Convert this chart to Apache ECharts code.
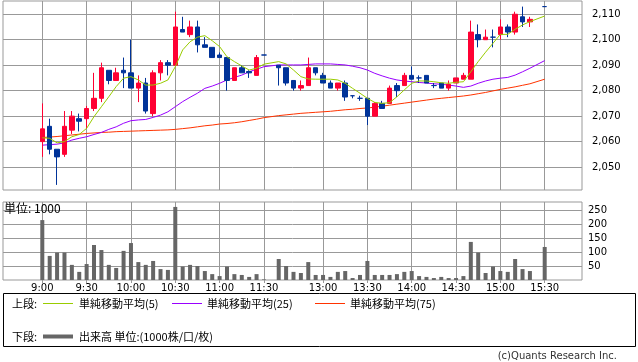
<!DOCTYPE html>
<html><head><meta charset="utf-8">
<script src="https://cdn.jsdelivr.net/npm/echarts@6/dist/echarts.min.js"></script>
<style>html,body{margin:0;padding:0;background:#fff}#c{width:638px;height:362px}</style>
</head><body><div id="c"></div>
<script>
// slot index 0 = 9:00, each slot = 5 minutes; 31 = lunch gap, 67 = 15:25 (no trade)
const tickIdx = [0, 6, 12, 18, 24, 30, 38, 44, 50, 56, 62, 68];
const tickLabels = ['9:00', '9:30', '10:00', '10:30', '11:00', '11:30', '13:00', '13:30', '14:00', '14:30', '15:00', '15:30'];
const priceTicks = [2050, 2060, 2070, 2080, 2090, 2100, 2110];
const volTicks = [50, 100, 150, 200, 250];

const opens = [2060,2066,2057,2055,2064.5,2069,2069,2073,2077,2088,
  2084,2088,2087,2081,2083,2071,2087,2091,2090,2104,
  2102,2105,2098,2097,2094,2093,2084,2089,2087.5,2086,
  2094,null,2090,2089,2084,2081,2082,2089,2086,2083,
  2081,2083,2078,2077,2077,2070,2075,2075,2082,2082,
  2086,2085,2086,2082,2083,2081,2083,2084.5,2084.5,2102,
  2100,2101,2102,2105,2103,2109,2107,null,2113];
const closes = [2065,2057,2054,2066,2070,2068,2073,2077,2089,2084,
  2087,2087,2081,2083,2072,2087,2091,2090,2105,2103,
  2105,2098,2097,2093,2093,2084,2089,2087,2087,2093,
  2094,null,2089,2083,2081,2082,2089,2087,2083,2081,
  2083,2077.5,2078,2077,2070,2075,2073,2081,2080,2086,
  2084.5,2085,2083,2082,2081,2082.5,2085,2086,2103,2100,
  2101,2101,2105,2103,2110,2107,2108,null,2113];
const lows = [2054,2055,2043,2054,2063,2064,2065,2072,2075.5,2082.5,
  2084,2081,2081,2075.5,2071,2070,2084,2086,2090,2103,
  2101,2095,2097,2093,2093,2080,2084,2087,2085,2086,
  2094,null,2082,2082,2080,2080,2082,2086,2083,2081,
  2080,2076,2077,2076,2066.5,2070,2073,2075,2077.5,2082,
  2084.5,2083,2083,2081,2081,2080,2083,2084.5,2084.5,2097,
  2100,2097,2100,2101,2102,2105,2105,null,2113];
const highs = [2075,2069,2057,2072,2072,2071,2074,2087,2091,2088,
  2089,2093,2100,2086,2085,2088,2092,2092,2111,2109,
  2107.5,2107.5,2101,2097,2095,2093,2089,2090,2088,2094,
  2094,null,2090,2089,2084,2084,2093,2089,2087,2084,
  2083,2084,2078,2078,2077,2075.5,2076,2082,2083,2087,
  2089.5,2086,2086,2083,2083,2084,2085,2087,2107.5,2106,
  2104,2104,2108,2106,2111,2113,2109,null,2113];
const volumes = [214,86,98,98,54,29,57,125,107,54,
  43,104,132,64,54,68,39,36,261,48,
  54,50,32,21,14,48,21,18,11,21,
  2,null,75,50,29,25,64,18,18,11,
  29,32,7,18,68,18,18,18,21,29,
  32,14,11,7,11,7,7,14,136,98,
  25,48,32,29,75,39,32,null,118];
const ma5 = [2061.5,2061.3,2059.5,2060.0,2061.9,2062.8,2065.2,2069.8,2073.7,2077.6,
  2081.6,2084.9,2085.5,2084.2,2082.2,2082.2,2082.9,2084.2,2089.4,2096.0,
  2099.2,2101.0,2101.6,2099.6,2097.3,2093.3,2091.4,2089.7,2088.1,2088.8,
  2090.4,null,2091.4,2090.5,2088.1,2085.5,2084.6,2084.5,2084.5,2084.5,
  2084.2,2082.9,2080.9,2079.0,2077.0,2075.4,2075.0,2075.3,2077.6,2080.3,
  2082.9,2083.8,2083.8,2083.5,2083.1,2082.9,2083.3,2083.5,2087.4,2091.4,
  2095.1,2098.6,2102.1,2102.1,2104.1,2105.8,2107.1,null,2109.3];
const ma25 = [2058.6,2058.8,2059.0,2059.5,2060.6,2061.3,2061.9,2062.8,2063.6,2064.8,
  2065.8,2067.2,2068.2,2068.5,2068.7,2069.5,2070.4,2071.7,2073.7,2075.7,
  2077.4,2079.0,2080.9,2081.8,2082.9,2084.2,2085.2,2086.1,2087.4,2088.4,
  2089.4,null,2090.1,2090.1,2090.1,2090.1,2090.3,2090.5,2090.5,2090.5,
  2090.3,2090.1,2089.6,2089.0,2088.1,2086.8,2085.8,2084.9,2084.2,2083.8,
  2083.5,2083.2,2083.0,2082.7,2082.5,2082.2,2081.8,2081.3,2081.8,2082.9,
  2083.8,2084.5,2084.9,2085.2,2086.1,2087.4,2088.8,null,2091.8];
const ma75 = [2061.6,2061.8,2062.0,2062.3,2062.6,2062.9,2063.2,2063.4,2063.6,2063.7,
  2063.9,2064.0,2064.1,2064.2,2064.3,2064.4,2064.5,2064.6,2064.8,2065.1,
  2065.4,2065.8,2066.2,2066.5,2066.9,2067.1,2067.4,2067.8,2068.3,2068.8,
  2069.4,null,2070.2,2070.5,2070.8,2071.1,2071.3,2071.5,2071.7,2071.9,
  2072.2,2072.5,2072.7,2073.0,2073.2,2073.5,2073.9,2074.3,2074.7,2075.1,
  2075.5,2075.9,2076.3,2076.7,2077.0,2077.3,2077.6,2077.9,2078.3,2078.8,
  2079.3,2079.9,2080.5,2081.0,2081.5,2082.1,2082.7,null,2084.5];

const UP = '#ff0033', DOWN = '#003399', GRID = '#999999';
const NUMFONT = 'DejaVu Sans';
const JPFONT = '"Noto Sans CJK JP", sans-serif';

const candleData = [];
const volData = [];
const pts = arr => { const r = []; arr.forEach((v, i) => { if (v != null) r.push([i, v]); }); return r; };
opens.forEach((o, i) => {
  if (o == null) return;
  const item = { value: [i, o, closes[i], lows[i], highs[i]] };
  if (o === closes[i]) item.itemStyle = { color: DOWN, color0: DOWN, borderColor: DOWN, borderColor0: DOWN };
  candleData.push(item);
});
volumes.forEach((v, i) => { if (v != null) volData.push([i, v]); });

const xMin = -5.32, xMax = 73.05;
const chart = echarts.init(document.getElementById('c'), null, { renderer: 'canvas' });
chart.setOption({
  animation: false,
  backgroundColor: '#fff',
  grid: [
    { left: 3, top: 1, width: 579, height: 189, show: true, borderColor: GRID, borderWidth: 1, containLabel: false },
    { left: 3, top: 202, width: 579, height: 78, show: true, borderColor: GRID, borderWidth: 1, containLabel: false }
  ],
  xAxis: [
    { type: 'value', gridIndex: 0, min: xMin, max: xMax,
      axisLine: { show: false }, axisLabel: { show: false },
      axisTick: { show: false, customValues: tickIdx },
      splitLine: { show: true, lineStyle: { color: GRID, width: 1 } } },
    { type: 'value', gridIndex: 1, min: xMin, max: xMax,
      axisLine: { show: false },
      axisTick: { show: true, length: 3, customValues: tickIdx, lineStyle: { color: GRID } },
      axisLabel: { show: true, customValues: tickIdx, margin: 3, fontSize: 10, fontFamily: NUMFONT, color: '#000',
        formatter: v => { const k = tickIdx.indexOf(Math.round(v)); return k >= 0 ? tickLabels[k] : ''; } },
      splitLine: { show: true, lineStyle: { color: GRID, width: 1 } } }
  ],
  yAxis: [
    { type: 'value', gridIndex: 0, position: 'right', min: 2041.0, max: 2115.2,
      axisLine: { show: false },
      axisTick: { show: true, length: 4, customValues: priceTicks, lineStyle: { color: GRID } },
      axisLabel: { show: true, customValues: priceTicks, margin: 10, fontSize: 10, fontFamily: NUMFONT, color: '#000',
        formatter: v => v.toLocaleString('en-US') },
      splitLine: { show: true, lineStyle: { color: GRID, width: 1 } } },
    { type: 'value', gridIndex: 1, position: 'right', min: 0, max: 278.6,
      axisLine: { show: false },
      axisTick: { show: true, length: 4, customValues: volTicks, lineStyle: { color: GRID } },
      axisLabel: { show: true, customValues: volTicks, margin: 6, fontSize: 10, fontFamily: NUMFONT, color: '#000' },
      splitLine: { show: true, lineStyle: { color: GRID, width: 1 } } }
  ],
  series: [
    { type: 'line', name: 'ma75', xAxisIndex: 0, yAxisIndex: 0, data: pts(ma75), symbol: 'none',
      lineStyle: { color: '#ff3300', width: 1 }, z: 3 },
    { type: 'line', name: 'ma25', xAxisIndex: 0, yAxisIndex: 0, data: pts(ma25), symbol: 'none',
      lineStyle: { color: '#9900ff', width: 1 }, z: 3 },
    { type: 'candlestick', xAxisIndex: 0, yAxisIndex: 0, data: candleData, barWidth: 5,
      encode: { x: 0, y: [1, 2, 3, 4] },
      itemStyle: { color: UP, color0: DOWN, borderColor: UP, borderColor0: DOWN, borderWidth: 1 }, z: 4 },
    { type: 'line', name: 'ma5', xAxisIndex: 0, yAxisIndex: 0, data: pts(ma5), symbol: 'none',
      lineStyle: { color: '#99cc00', width: 1 }, z: 5 },
    { type: 'bar', xAxisIndex: 1, yAxisIndex: 1, data: volData, barWidth: 4,
      itemStyle: { color: '#666666' } }
  ],
  graphic: [
    { type: 'text', left: 4, top: 202, style: { text: '単位: 1000', font: '12px ' + JPFONT, fill: '#000' }, z: 10 },
    { type: 'rect', shape: { x: 3.5, y: 293.5, width: 632, height: 53 }, style: { fill: 'none', stroke: '#000', lineWidth: 1 } },
    { type: 'text', x: 12, y: 303.5, style: { text: '上段:', font: '11px ' + JPFONT, fill: '#000', textVerticalAlign: 'middle' } },
    { type: 'line', shape: { x1: 43, y1: 303.5, x2: 73, y2: 303.5 }, style: { stroke: '#99cc00', lineWidth: 1 } },
    { type: 'text', x: 79, y: 303.5, style: { text: '単純移動平均(5)', font: '11px ' + JPFONT, fill: '#000', textVerticalAlign: 'middle' } },
    { type: 'line', shape: { x1: 172, y1: 303.5, x2: 202, y2: 303.5 }, style: { stroke: '#9900ff', lineWidth: 1 } },
    { type: 'text', x: 207, y: 303.5, style: { text: '単純移動平均(25)', font: '11px ' + JPFONT, fill: '#000', textVerticalAlign: 'middle' } },
    { type: 'line', shape: { x1: 315, y1: 303.5, x2: 345, y2: 303.5 }, style: { stroke: '#ff3300', lineWidth: 1 } },
    { type: 'text', x: 350, y: 303.5, style: { text: '単純移動平均(75)', font: '11px ' + JPFONT, fill: '#000', textVerticalAlign: 'middle' } },
    { type: 'text', x: 12, y: 336.5, style: { text: '下段:', font: '11px ' + JPFONT, fill: '#000', textVerticalAlign: 'middle' } },
    { type: 'line', shape: { x1: 43, y1: 336.5, x2: 73, y2: 336.5 }, style: { stroke: '#666666', lineWidth: 4 } },
    { type: 'text', x: 79, y: 336.5, style: { text: '出来高 単位:(1000株/口/枚)', font: '11px ' + JPFONT, fill: '#000', textVerticalAlign: 'middle' } },
    { type: 'text', x: 617, y: 356, style: { text: '(c)Quants Research Inc.', font: '10px ' + NUMFONT, fill: '#333', textAlign: 'right', textVerticalAlign: 'middle' } }
  ]
});
</script></body></html>
